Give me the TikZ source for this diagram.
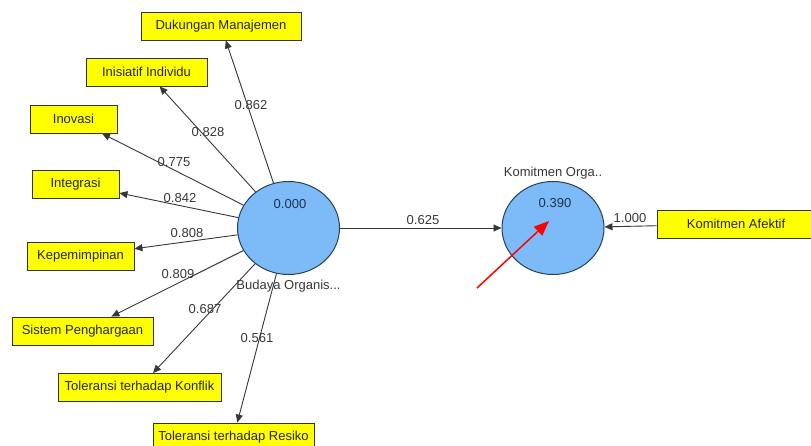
\documentclass[tikz,border=0pt]{standalone}
\usepackage{fontspec}
\setmainfont{Liberation Sans}
\usetikzlibrary{shapes.geometric,arrows.meta}
\definecolor{lvblue}{RGB}{124,187,247}
\definecolor{lvedge}{RGB}{40,62,90}
\definecolor{lvtext}{RGB}{30,50,80}
\definecolor{pathgray}{RGB}{55,55,55}
\definecolor{txtgray}{RGB}{55,55,55}
\definecolor{indyellow}{RGB}{255,255,0}

\begin{document}
\begin{tikzpicture}[x=1pt, y=-1pt,
    every node/.style={font=\fontsize{13}{15}\selectfont},
    indicator/.style={draw=black!80, fill=indyellow, line width=0.9pt,
        minimum height=28pt, inner sep=1pt, text=black!85},
    latent/.style={ellipse, draw=lvedge, fill=lvblue, line width=1pt,
        minimum width=102pt, minimum height=93pt, inner sep=0pt},
    coef/.style={text=txtgray, inner sep=0pt},
    loading/.style={draw=pathgray, line width=0.9pt,
        -{Triangle[length=8pt,width=7pt]}},
]
    \useasboundingbox (0,0) rectangle (811,446);
    \clip (0,0) rectangle (811,446);

    % Latent variables
    \node[latent] (bud) at (288.5,228) {};
    \node[latent] (kom) at (553,228) {};
    \node[coef, text=lvtext] (budval) at (290,204) {0.000};
    \node[coef, text=lvtext] (komval) at (555,203) {0.390};
    \node[coef] (budname) at (288.5,286) {Budaya Organis...};
    \node[coef] (komname) at (553,173) {Komitmen Orga..};

    % Indicators of Budaya Organisasi
    \foreach \nm/\x/\y/\w/\txt in {
        dm/221/26/160/{Dukungan Manajemen},
        ii/146.5/72/121/{Inisiatif Individu},
        ino/73.5/119/87/{Inovasi},
        int/75.5/184/87/{Integrasi},
        kep/80.5/256/107/{Kepemimpinan},
        sis/82.5/331/141/{Sistem Penghargaan},
        kon/139.5/387.5/163/{Toleransi terhadap Konflik},
        res/233.5/437/161/{Toleransi terhadap Resiko}} {
        \node[indicator, minimum width=\w pt] (\nm) at (\x,\y) {\txt};
    }

    % Indicator of Komitmen Organisasi
    \node[indicator, minimum width=158pt] (afk) at (736,224) {Komitmen Afektif};

    % Outer loadings
    \foreach \nm/\val/\lx/\ly in {
        dm/0.862/251/105,
        ii/0.828/208/132,
        ino/0.775/174/162,
        int/0.842/180/198,
        kep/0.808/187/233,
        sis/0.809/178/274,
        kon/0.687/205/309,
        res/0.561/257/338} {
        \draw[loading] (bud) -- (\nm);
        \node[coef] (c\nm) at (\lx,\ly) {\val};
    }

    % Path coefficient and reflective loading
    \draw[loading] (bud) -- (kom);
    \node[coef] (cpath) at (423,220) {0.625};
    \draw[loading] (afk) -- (kom);
    \node[coef] (cafk) at (630,218) {1.000};

    % Red pointer
    \coordinate (redtail) at (477,288);
    \coordinate (redtip) at (549,221);
    \draw[red, line width=1.5pt, -{Triangle[length=15pt,width=12pt]}] (redtail) -- (redtip);
\end{tikzpicture}
\end{document}
